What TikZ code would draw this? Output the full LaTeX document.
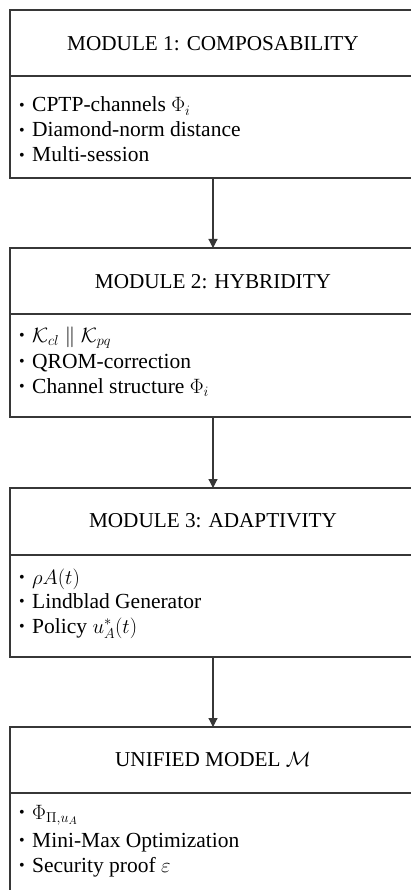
\documentclass[tikz,border=0pt]{standalone}
\usepackage[no-math]{fontspec}
\setmainfont{Liberation Serif}
\usetikzlibrary{arrows.meta}
\definecolor{edge}{RGB}{55,55,55}
\newcommand{\blt}{\makebox[13pt][l]{\raisebox{1.2pt}{\fontsize{16}{16}\selectfont •}}}
\begin{document}
\begin{tikzpicture}[x=1pt,y=1pt,
  frame/.style={draw=edge,line width=1.3pt,minimum width=406pt,inner sep=0pt,outer sep=0pt,anchor=north west},
  ttl/.style={anchor=base,inner sep=0pt,font=\fontsize{21.2}{25}\selectfont},
  item/.style={anchor=base west,inner sep=0pt,font=\fontsize{21.5}{25}\selectfont},
  link/.style={draw=edge,line width=1.2pt,-{Triangle[length=9pt,width=9pt]}}]
\useasboundingbox (0,0) rectangle (411,-890);
\clip (0,0) rectangle (411,-890);
\fill[white] (0,0) rectangle (411,-890);
% Module 1
\node[frame,minimum height=66pt] (h1) at (10,-10) {};
\node[frame,minimum height=102pt] (b1) at (h1.south west) {};
\node[ttl] (t1) at (213,-51) {MODULE 1: COMPOSABILITY};
\node[item] (i11) at (19,-112) {\blt CPTP-channels $\Phi_i$};
\node[item] (i12) at (19,-137) {\blt Diamond-norm distance};
\node[item] (i13) at (19,-162) {\blt Multi-session};
% Module 2
\node[frame,minimum height=66pt] (h2) at (10,-248) {};
\node[frame,minimum height=103pt] (b2) at (h2.south west) {};
\node[ttl] (t2) at (213,-288) {MODULE 2: HYBRIDITY};
\node[item] (i21) at (19,-342) {\blt $\mathcal{K}_{cl}\parallel\mathcal{K}_{pq}$};
\node[item] (i22) at (19,-368) {\blt QROM-correction};
\node[item] (i23) at (19,-393) {\blt Channel structure $\Phi_i$};
% Module 3
\node[frame,minimum height=67pt] (h3) at (10,-488) {};
\node[frame,minimum height=102pt] (b3) at (h3.south west) {};
\node[ttl] (t3) at (213,-527) {MODULE 3: ADAPTIVITY};
\node[item] (i31) at (19,-584) {\blt $\rho A(t)$};
\node[item] (i32) at (19,-608) {\blt Lindblad Generator};
\node[item] (i33) at (19,-633) {\blt Policy $u_A^{*}(t)$};
% Unified model
\node[frame,minimum height=66pt] (h4) at (10,-727) {};
\node[frame,minimum height=120pt] (b4) at (h4.south west) {};
\node[ttl] (t4) at (213,-766) {UNIFIED MODEL $\mathcal{M}$};
\node[item] (i41) at (19,-819) {\blt $\Phi_{\Pi,u_A}$};
\node[item] (i42) at (19,-847) {\blt Mini-Max Optimization};
\node[item] (i43) at (19,-872) {\blt Security proof $\varepsilon$};
% connectors
\draw[link] (b1.south -| t1) -- (h2.north -| t1);
\draw[link] (b2.south -| t2) -- (h3.north -| t2);
\draw[link] (b3.south -| t3) -- (h4.north -| t3);
\end{tikzpicture}
\end{document}
